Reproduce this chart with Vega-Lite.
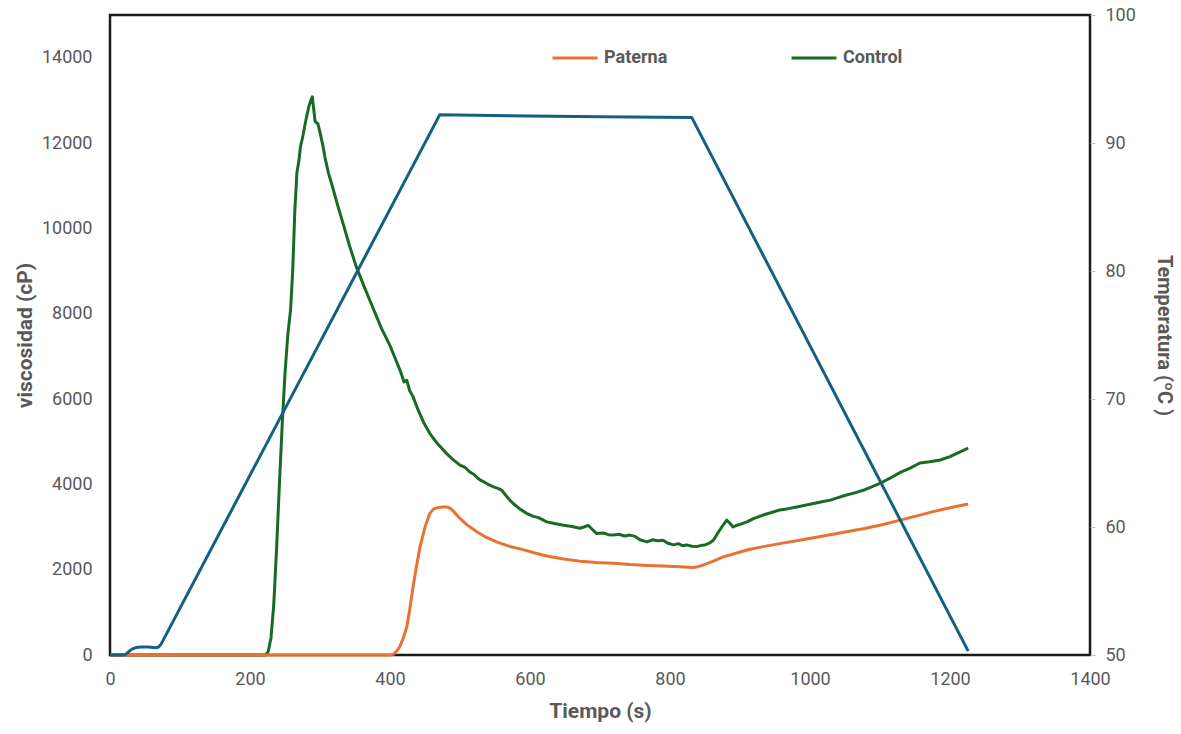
{
  "$schema": "https://vega.github.io/schema/vega-lite/v6.json",
  "width": 980,
  "height": 640,
  "autosize": {"type": "none"},
  "padding": {"left": 110, "top": 15, "right": 91, "bottom": 79},
  "background": "white",
  "config": {
    "view": {"stroke": "#1a1a1a", "strokeWidth": 2.5},
    "font": "Roboto",
    "axis": {"grid": false, "labelColor": "#595959", "labelFontSize": 18, "titleColor": "#595959", "titleFontSize": 21, "titleFontWeight": "bold", "labelFont": "Roboto", "titleFont": "Roboto"}
  },
  "datasets": {
    "visc": [
      {"t": 0, "v": 0, "serie": "Control"},
      {"t": 100, "v": 0, "serie": "Control"},
      {"t": 200, "v": 0, "serie": "Control"},
      {"t": 222, "v": 0, "serie": "Control"},
      {"t": 226, "v": 80, "serie": "Control"},
      {"t": 230, "v": 400, "serie": "Control"},
      {"t": 234, "v": 1200, "serie": "Control"},
      {"t": 238, "v": 2500, "serie": "Control"},
      {"t": 242, "v": 4000, "serie": "Control"},
      {"t": 246, "v": 5400, "serie": "Control"},
      {"t": 250, "v": 6600, "serie": "Control"},
      {"t": 254, "v": 7500, "serie": "Control"},
      {"t": 258, "v": 8100, "serie": "Control"},
      {"t": 261, "v": 9000, "serie": "Control"},
      {"t": 264, "v": 10400, "serie": "Control"},
      {"t": 267, "v": 11300, "serie": "Control"},
      {"t": 270, "v": 11600, "serie": "Control"},
      {"t": 272, "v": 11900, "serie": "Control"},
      {"t": 276, "v": 12200, "serie": "Control"},
      {"t": 280, "v": 12550, "serie": "Control"},
      {"t": 284, "v": 12850, "serie": "Control"},
      {"t": 287, "v": 13000, "serie": "Control"},
      {"t": 289, "v": 13080, "serie": "Control"},
      {"t": 291, "v": 12800, "serie": "Control"},
      {"t": 293, "v": 12500, "serie": "Control"},
      {"t": 297, "v": 12450, "serie": "Control"},
      {"t": 300, "v": 12250, "serie": "Control"},
      {"t": 304, "v": 11950, "serie": "Control"},
      {"t": 307, "v": 11670, "serie": "Control"},
      {"t": 312, "v": 11300, "serie": "Control"},
      {"t": 318, "v": 10965, "serie": "Control"},
      {"t": 325, "v": 10550, "serie": "Control"},
      {"t": 333, "v": 10110, "serie": "Control"},
      {"t": 342, "v": 9600, "serie": "Control"},
      {"t": 352, "v": 9090, "serie": "Control"},
      {"t": 364, "v": 8600, "serie": "Control"},
      {"t": 376, "v": 8120, "serie": "Control"},
      {"t": 388, "v": 7650, "serie": "Control"},
      {"t": 400, "v": 7250, "serie": "Control"},
      {"t": 410, "v": 6850, "serie": "Control"},
      {"t": 416, "v": 6600, "serie": "Control"},
      {"t": 420, "v": 6400, "serie": "Control"},
      {"t": 424, "v": 6440, "serie": "Control"},
      {"t": 428, "v": 6200, "serie": "Control"},
      {"t": 433, "v": 6050, "serie": "Control"},
      {"t": 440, "v": 5750, "serie": "Control"},
      {"t": 448, "v": 5450, "serie": "Control"},
      {"t": 457, "v": 5190, "serie": "Control"},
      {"t": 468, "v": 4950, "serie": "Control"},
      {"t": 481, "v": 4720, "serie": "Control"},
      {"t": 490, "v": 4580, "serie": "Control"},
      {"t": 500, "v": 4450, "serie": "Control"},
      {"t": 507, "v": 4400, "serie": "Control"},
      {"t": 514, "v": 4290, "serie": "Control"},
      {"t": 520, "v": 4230, "serie": "Control"},
      {"t": 525, "v": 4150, "serie": "Control"},
      {"t": 529, "v": 4100, "serie": "Control"},
      {"t": 535, "v": 4050, "serie": "Control"},
      {"t": 540, "v": 4000, "serie": "Control"},
      {"t": 548, "v": 3940, "serie": "Control"},
      {"t": 555, "v": 3900, "serie": "Control"},
      {"t": 560, "v": 3860, "serie": "Control"},
      {"t": 565, "v": 3750, "serie": "Control"},
      {"t": 570, "v": 3650, "serie": "Control"},
      {"t": 576, "v": 3550, "serie": "Control"},
      {"t": 585, "v": 3430, "serie": "Control"},
      {"t": 595, "v": 3320, "serie": "Control"},
      {"t": 605, "v": 3250, "serie": "Control"},
      {"t": 612, "v": 3220, "serie": "Control"},
      {"t": 624, "v": 3120, "serie": "Control"},
      {"t": 635, "v": 3080, "serie": "Control"},
      {"t": 648, "v": 3040, "serie": "Control"},
      {"t": 660, "v": 3010, "serie": "Control"},
      {"t": 671, "v": 2970, "serie": "Control"},
      {"t": 677, "v": 3000, "serie": "Control"},
      {"t": 683, "v": 3040, "serie": "Control"},
      {"t": 688, "v": 2960, "serie": "Control"},
      {"t": 695, "v": 2850, "serie": "Control"},
      {"t": 705, "v": 2860, "serie": "Control"},
      {"t": 712, "v": 2820, "serie": "Control"},
      {"t": 719, "v": 2810, "serie": "Control"},
      {"t": 727, "v": 2830, "serie": "Control"},
      {"t": 735, "v": 2790, "serie": "Control"},
      {"t": 743, "v": 2810, "serie": "Control"},
      {"t": 750, "v": 2780, "serie": "Control"},
      {"t": 757, "v": 2700, "serie": "Control"},
      {"t": 767, "v": 2650, "serie": "Control"},
      {"t": 775, "v": 2700, "serie": "Control"},
      {"t": 782, "v": 2680, "serie": "Control"},
      {"t": 790, "v": 2690, "serie": "Control"},
      {"t": 797, "v": 2620, "serie": "Control"},
      {"t": 805, "v": 2580, "serie": "Control"},
      {"t": 812, "v": 2610, "serie": "Control"},
      {"t": 818, "v": 2560, "serie": "Control"},
      {"t": 824, "v": 2580, "serie": "Control"},
      {"t": 831, "v": 2550, "serie": "Control"},
      {"t": 838, "v": 2540, "serie": "Control"},
      {"t": 845, "v": 2570, "serie": "Control"},
      {"t": 850, "v": 2580, "serie": "Control"},
      {"t": 856, "v": 2620, "serie": "Control"},
      {"t": 862, "v": 2690, "serie": "Control"},
      {"t": 868, "v": 2850, "serie": "Control"},
      {"t": 874, "v": 3000, "serie": "Control"},
      {"t": 881, "v": 3160, "serie": "Control"},
      {"t": 885, "v": 3100, "serie": "Control"},
      {"t": 890, "v": 3000, "serie": "Control"},
      {"t": 895, "v": 3040, "serie": "Control"},
      {"t": 900, "v": 3060, "serie": "Control"},
      {"t": 910, "v": 3120, "serie": "Control"},
      {"t": 920, "v": 3200, "serie": "Control"},
      {"t": 933, "v": 3280, "serie": "Control"},
      {"t": 945, "v": 3340, "serie": "Control"},
      {"t": 957, "v": 3400, "serie": "Control"},
      {"t": 969, "v": 3430, "serie": "Control"},
      {"t": 981, "v": 3470, "serie": "Control"},
      {"t": 993, "v": 3510, "serie": "Control"},
      {"t": 1005, "v": 3550, "serie": "Control"},
      {"t": 1017, "v": 3590, "serie": "Control"},
      {"t": 1029, "v": 3630, "serie": "Control"},
      {"t": 1040, "v": 3690, "serie": "Control"},
      {"t": 1052, "v": 3750, "serie": "Control"},
      {"t": 1064, "v": 3800, "serie": "Control"},
      {"t": 1076, "v": 3860, "serie": "Control"},
      {"t": 1088, "v": 3940, "serie": "Control"},
      {"t": 1100, "v": 4020, "serie": "Control"},
      {"t": 1115, "v": 4150, "serie": "Control"},
      {"t": 1129, "v": 4280, "serie": "Control"},
      {"t": 1143, "v": 4380, "serie": "Control"},
      {"t": 1157, "v": 4500, "serie": "Control"},
      {"t": 1171, "v": 4530, "serie": "Control"},
      {"t": 1186, "v": 4570, "serie": "Control"},
      {"t": 1200, "v": 4650, "serie": "Control"},
      {"t": 1213, "v": 4750, "serie": "Control"},
      {"t": 1226, "v": 4850, "serie": "Control"},
      {"t": 0, "v": 0, "serie": "Paterna"},
      {"t": 200, "v": 0, "serie": "Paterna"},
      {"t": 400, "v": 0, "serie": "Paterna"},
      {"t": 405, "v": 20, "serie": "Paterna"},
      {"t": 410, "v": 100, "serie": "Paterna"},
      {"t": 414, "v": 195, "serie": "Paterna"},
      {"t": 419, "v": 400, "serie": "Paterna"},
      {"t": 424, "v": 660, "serie": "Paterna"},
      {"t": 428, "v": 1050, "serie": "Paterna"},
      {"t": 433, "v": 1600, "serie": "Paterna"},
      {"t": 438, "v": 2100, "serie": "Paterna"},
      {"t": 443, "v": 2540, "serie": "Paterna"},
      {"t": 450, "v": 3000, "serie": "Paterna"},
      {"t": 457, "v": 3320, "serie": "Paterna"},
      {"t": 462, "v": 3420, "serie": "Paterna"},
      {"t": 467, "v": 3450, "serie": "Paterna"},
      {"t": 475, "v": 3470, "serie": "Paterna"},
      {"t": 481, "v": 3470, "serie": "Paterna"},
      {"t": 486, "v": 3440, "serie": "Paterna"},
      {"t": 490, "v": 3380, "serie": "Paterna"},
      {"t": 495, "v": 3290, "serie": "Paterna"},
      {"t": 500, "v": 3200, "serie": "Paterna"},
      {"t": 510, "v": 3050, "serie": "Paterna"},
      {"t": 524, "v": 2890, "serie": "Paterna"},
      {"t": 537, "v": 2760, "serie": "Paterna"},
      {"t": 552, "v": 2650, "serie": "Paterna"},
      {"t": 570, "v": 2550, "serie": "Paterna"},
      {"t": 590, "v": 2470, "serie": "Paterna"},
      {"t": 607, "v": 2390, "serie": "Paterna"},
      {"t": 624, "v": 2320, "serie": "Paterna"},
      {"t": 648, "v": 2250, "serie": "Paterna"},
      {"t": 671, "v": 2200, "serie": "Paterna"},
      {"t": 695, "v": 2170, "serie": "Paterna"},
      {"t": 719, "v": 2150, "serie": "Paterna"},
      {"t": 743, "v": 2120, "serie": "Paterna"},
      {"t": 767, "v": 2100, "serie": "Paterna"},
      {"t": 790, "v": 2085, "serie": "Paterna"},
      {"t": 814, "v": 2070, "serie": "Paterna"},
      {"t": 833, "v": 2050, "serie": "Paterna"},
      {"t": 840, "v": 2070, "serie": "Paterna"},
      {"t": 848, "v": 2110, "serie": "Paterna"},
      {"t": 862, "v": 2200, "serie": "Paterna"},
      {"t": 876, "v": 2300, "serie": "Paterna"},
      {"t": 893, "v": 2380, "serie": "Paterna"},
      {"t": 910, "v": 2460, "serie": "Paterna"},
      {"t": 933, "v": 2540, "serie": "Paterna"},
      {"t": 957, "v": 2610, "serie": "Paterna"},
      {"t": 981, "v": 2680, "serie": "Paterna"},
      {"t": 1005, "v": 2750, "serie": "Paterna"},
      {"t": 1029, "v": 2820, "serie": "Paterna"},
      {"t": 1052, "v": 2890, "serie": "Paterna"},
      {"t": 1076, "v": 2960, "serie": "Paterna"},
      {"t": 1100, "v": 3040, "serie": "Paterna"},
      {"t": 1126, "v": 3150, "serie": "Paterna"},
      {"t": 1150, "v": 3250, "serie": "Paterna"},
      {"t": 1176, "v": 3360, "serie": "Paterna"},
      {"t": 1200, "v": 3450, "serie": "Paterna"},
      {"t": 1226, "v": 3540, "serie": "Paterna"}
    ],
    "temp": [
      {"t": 0, "temp": 50},
      {"t": 20, "temp": 50},
      {"t": 24, "temp": 50.12},
      {"t": 28, "temp": 50.32},
      {"t": 32, "temp": 50.48},
      {"t": 37, "temp": 50.58},
      {"t": 45, "temp": 50.62},
      {"t": 55, "temp": 50.62},
      {"t": 65, "temp": 50.56},
      {"t": 69, "temp": 50.6},
      {"t": 73, "temp": 50.85},
      {"t": 471, "temp": 92.2},
      {"t": 600, "temp": 92.1},
      {"t": 700, "temp": 92.05},
      {"t": 831, "temp": 92.0},
      {"t": 1226, "temp": 50.3}
    ]
  },
  "encoding": {
    "x": {
      "field": "t", "type": "quantitative",
      "scale": {"domain": [0, 1400], "nice": false},
      "axis": {"title": "Tiempo (s)", "values": [0, 200, 400, 600, 800, 1000, 1200, 1400], "format": "d", "ticks": false, "domain": false, "labelPadding": 15, "titlePadding": 12, "labelFlush": false}
    }
  },
  "layer": [
    {
      "data": {"name": "visc"},
      "mark": {"type": "line", "strokeWidth": 3, "interpolate": "linear", "strokeJoin": "round"},
      "encoding": {
        "y": {
          "field": "v", "type": "quantitative",
          "scale": {"domain": [0, 15000], "nice": false},
          "axis": {"title": "viscosidad (cP)", "values": [0, 2000, 4000, 6000, 8000, 10000, 12000, 14000], "format": "d", "ticks": false, "domain": false, "labelPadding": 18, "titlePadding": 6, "labelFlush": false}
        },
        "color": {
          "field": "serie", "type": "nominal",
          "scale": {"domain": ["Paterna", "Control"], "range": ["#E97132", "#196B24"]},
          "legend": {
            "title": null, "orient": "none", "direction": "horizontal",
            "legendX": 441, "legendY": 19,
            "symbolType": "stroke", "symbolSize": 2025, "symbolStrokeWidth": 3,
            "labelFontSize": 18, "labelFontWeight": "bold", "labelColor": "#595959", "labelOffset": 5,
            "columnPadding": 117
          }
        }
      }
    },
    {
      "data": {"name": "temp"},
      "mark": {"type": "line", "strokeWidth": 3, "color": "#156082", "interpolate": "linear", "strokeJoin": "round"},
      "encoding": {
        "y": {
          "field": "temp", "type": "quantitative",
          "scale": {"domain": [50, 100], "nice": false},
          "axis": {"orient": "right", "title": "Temperatura (ºC )", "titleFontSize": 20, "values": [50, 60, 70, 80, 90, 100], "ticks": true, "tickSize": 5, "tickColor": "#bfbfbf", "domain": false, "labelPadding": 10, "titlePadding": 18, "labelFlush": false}
        }
      }
    }
  ],
  "resolve": {"scale": {"y": "independent"}}
}
